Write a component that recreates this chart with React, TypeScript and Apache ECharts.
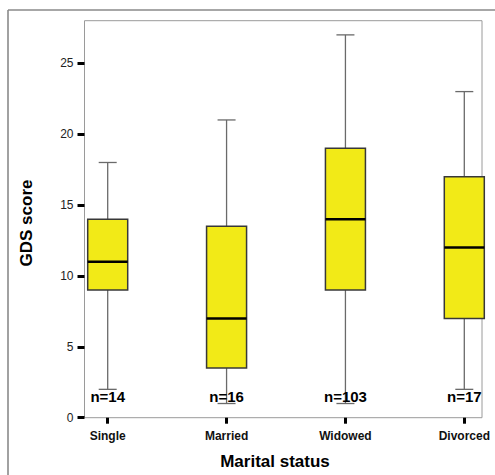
import React, { useEffect, useRef } from "react";
import * as echarts from "echarts";

const categories = ["Single", "Married", "Widowed", "Divorced"];
// [low whisker, Q1, median, Q3, high whisker]
const lowValues = [2, 1, 1, 2];
const q1Values = [9, 3.5, 9, 7];
const medianValues = [11, 7, 14, 12];
const q3Values = [14, 13.5, 19, 17];
const highValues = [18, 21, 27, 23];
const nCounts = [14, 16, 103, 17];
const yTicks = [0, 5, 10, 15, 20, 25];

const W = 495;
const H = 475;
const PLOT_LEFT = 84.5;
const PLOT_RIGHT = 482;
const PLOT_TOP = 20.7;
const PLOT_BOTTOM = 417.7;
const CAT_FIRST = 107.7;
const CAT_LAST = 464.3;
const FONT = "'Liberation Sans', Arial, Helvetica, sans-serif";

export default function App() {
  const ref = useRef<HTMLDivElement>(null);

  useEffect(() => {
    if (!ref.current) return;
    const chart = echarts.init(ref.current, undefined, { renderer: "svg" });

    const data = categories.map((_, i) => [
      i,
      lowValues[i],
      q1Values[i],
      medianValues[i],
      q3Values[i],
      highValues[i],
      nCounts[i],
    ]);

    const renderItem = (params: any, api: any) => {
      const idx = api.value(0);
      const low = api.coord([idx, api.value(1)]);
      const q1 = api.coord([idx, api.value(2)]);
      const med = api.coord([idx, api.value(3)]);
      const q3 = api.coord([idx, api.value(4)]);
      const high = api.coord([idx, api.value(5)]);
      const zero = api.coord([idx, 0]);
      const n = api.value(6);
      const x = low[0];
      const bw = 40;
      const cw = 18;
      const whiskerStyle = { stroke: "#6a6a6a", lineWidth: 1.3 };
      return {
        type: "group",
        children: [
          { type: "line", shape: { x1: x, y1: q3[1], x2: x, y2: high[1] }, style: whiskerStyle },
          { type: "line", shape: { x1: x - cw / 2, y1: high[1], x2: x + cw / 2, y2: high[1] }, style: whiskerStyle },
          { type: "line", shape: { x1: x, y1: q1[1], x2: x, y2: low[1] }, style: whiskerStyle },
          { type: "line", shape: { x1: x - cw / 2, y1: low[1], x2: x + cw / 2, y2: low[1] }, style: whiskerStyle },
          {
            type: "rect",
            shape: { x: x - bw / 2, y: q3[1], width: bw, height: q1[1] - q3[1] },
            style: { fill: "#f2ea17", stroke: "#383838", lineWidth: 1.5 },
          },
          {
            type: "line",
            shape: { x1: x - bw / 2, y1: med[1], x2: x + bw / 2, y2: med[1] },
            style: { stroke: "#000", lineWidth: 2.6 },
          },
          {
            type: "text",
            x: x,
            y: zero[1] - 21,
            style: {
              text: "n=" + n,
              fill: "#000",
              font: "bold 15px " + FONT,
              textAlign: "center",
              textVerticalAlign: "middle",
            },
          },
        ],
      };
    };

    chart.setOption({
      animation: false,
      backgroundColor: "#fff",
      grid: {
        left: CAT_FIRST,
        right: W - CAT_LAST,
        top: PLOT_TOP,
        bottom: H - PLOT_BOTTOM,
        containLabel: false,
      },
      xAxis: {
        type: "category",
        data: categories,
        boundaryGap: false,
        axisLine: { show: false },
        axisTick: { show: true, length: 6, lineStyle: { color: "#000", width: 3 } },
        axisLabel: {
          margin: 12,
          color: "#111",
          fontSize: 12,
          fontWeight: "bold",
          fontFamily: FONT,
        },
        splitLine: { show: false },
      },
      yAxis: {
        type: "value",
        min: 0,
        max: 28,
        interval: 5,
        offset: CAT_FIRST - PLOT_LEFT,
        axisLine: { show: false },
        axisTick: {
          show: true,
          length: 7,
          customValues: yTicks,
          lineStyle: { color: "#000", width: 3 },
        },
        axisLabel: {
          margin: 11,
          color: "#222",
          fontSize: 12,
          fontFamily: FONT,
          customValues: yTicks,
        },
        splitLine: { show: false },
      },
      graphic: [
        {
          type: "line",
          shape: { x1: 8, y1: 10, x2: W, y2: 10 },
          style: { stroke: "#8a8a8a", lineWidth: 1.6 },
        },
        {
          type: "line",
          shape: { x1: 8, y1: 10, x2: 8, y2: H },
          style: { stroke: "#8a8a8a", lineWidth: 1.6 },
        },
        {
          type: "rect",
          shape: {
            x: PLOT_LEFT,
            y: PLOT_TOP,
            width: PLOT_RIGHT - PLOT_LEFT,
            height: PLOT_BOTTOM - PLOT_TOP,
          },
          style: { fill: "none", stroke: "#9a9a9a", lineWidth: 1 },
          z: -1,
        },
        {
          type: "text",
          x: 26,
          y: 223,
          rotation: Math.PI / 2,
          style: {
            text: "GDS score",
            fill: "#000",
            font: "bold 17px " + FONT,
            textAlign: "center",
            textVerticalAlign: "middle",
          },
        },
        {
          type: "text",
          x: 275,
          y: 461.5,
          style: {
            text: "Marital status",
            fill: "#000",
            font: "bold 17px " + FONT,
            textAlign: "center",
            textVerticalAlign: "middle",
          },
        },
      ],
      series: [
        {
          type: "custom",
          renderItem,
          data,
          encode: { x: 0, y: [1, 2, 3, 4, 5] },
          z: 5,
        },
      ],
    });

    return () => chart.dispose();
  }, []);

  return (
    <div
      ref={ref}
      style={{ position: "fixed", left: 0, top: 0, width: W, height: H }}
    />
  );
}
